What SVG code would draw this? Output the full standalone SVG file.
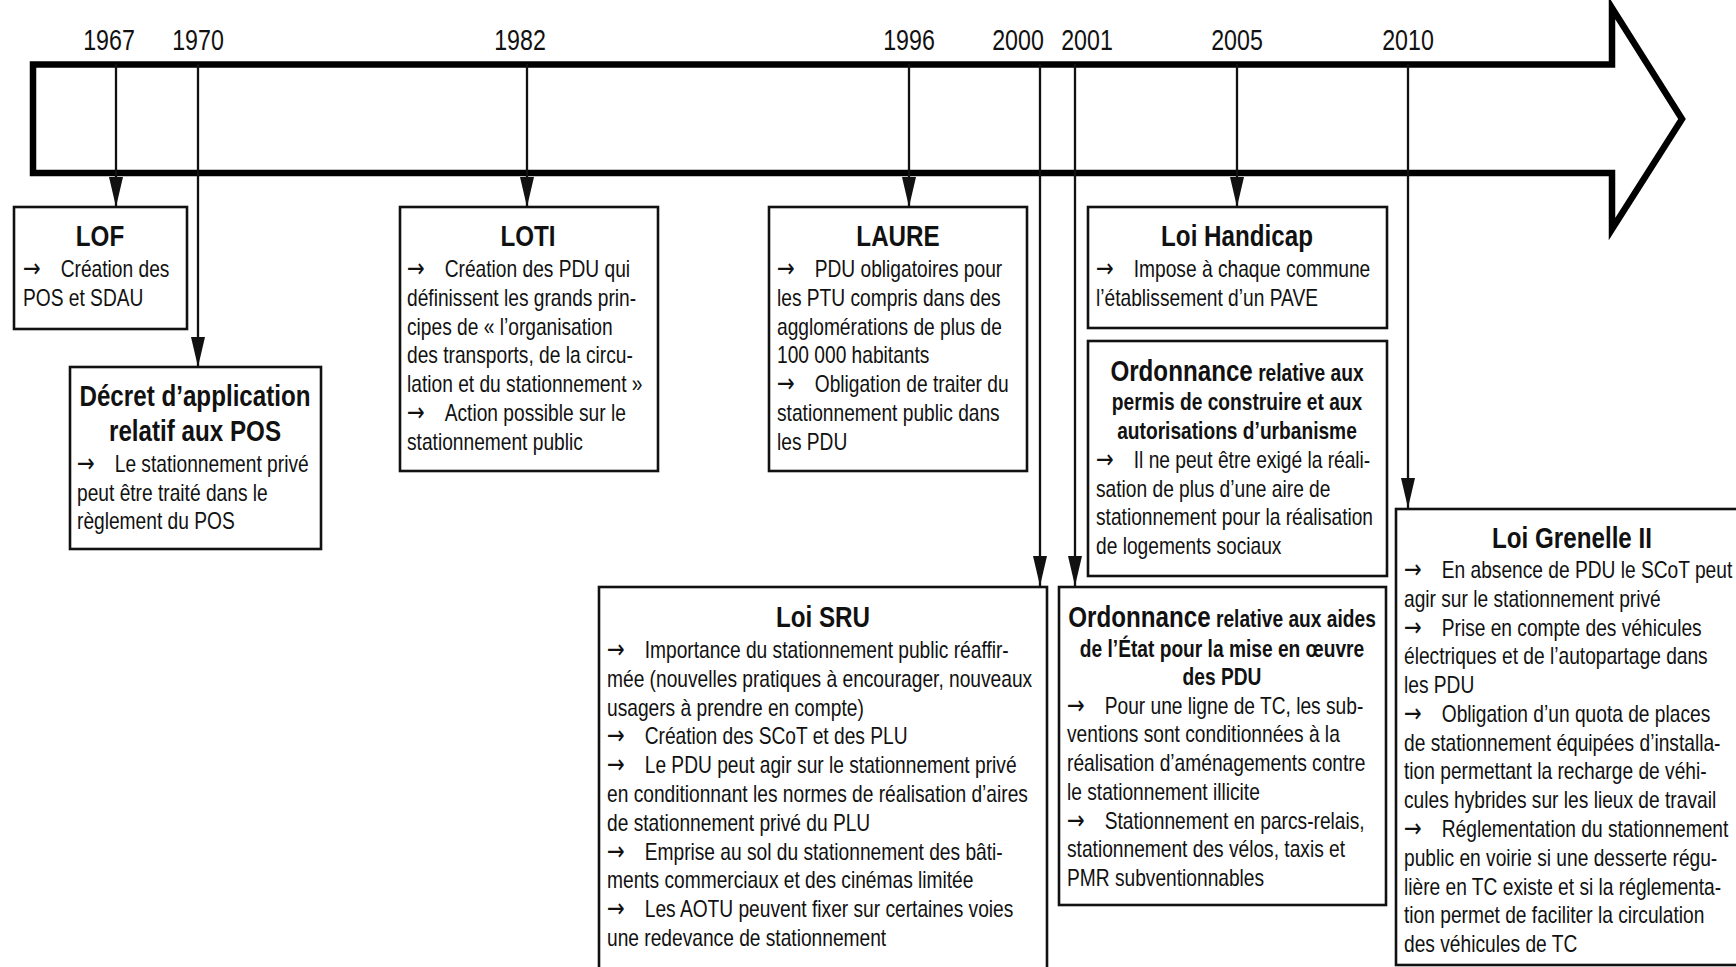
<svg xmlns="http://www.w3.org/2000/svg" width="1736" height="967" viewBox="0 0 1736 967">
<style>
.bg{fill:#fff}
.box{fill:#fff;stroke:#111;stroke-width:2.6}
.band{fill:none;stroke:#000;stroke-width:6.5;stroke-linejoin:miter;stroke-miterlimit:10}
.tick{fill:none;stroke:#111;stroke-width:2.3}
.b{font-family:"Liberation Sans",Arial,sans-serif;font-size:23.4px;fill:#111}
.t{font-weight:bold;font-size:29.5px;text-anchor:middle}
.s{font-weight:bold;font-size:23.4px}
.ar{font-family:"DejaVu Sans",sans-serif;font-size:26px}
.yr{font-family:"Liberation Sans",Arial,sans-serif;font-size:29px;fill:#111;text-anchor:middle}
</style>
<defs>
<marker id="ah" markerUnits="userSpaceOnUse" markerWidth="30" markerHeight="14" refX="30" refY="7" orient="auto">
<path d="M0,0 L30,7 L0,14 Z" fill="#111"/>
</marker>
</defs>
<rect class="bg" x="0" y="0" width="1736" height="967"/>

<g id="timeline">
<path class="band" d="M33,64.5 H1612 V8 L1682,119 L1612,229 V173 H33 Z"/>
<text class="yr" transform="translate(109 50) scale(0.8 1)">1967</text>
<text class="yr" transform="translate(198 50) scale(0.8 1)">1970</text>
<text class="yr" transform="translate(520 50) scale(0.8 1)">1982</text>
<text class="yr" transform="translate(909 50) scale(0.8 1)">1996</text>
<text class="yr" transform="translate(1018 50) scale(0.8 1)">2000</text>
<text class="yr" transform="translate(1087 50) scale(0.8 1)">2001</text>
<text class="yr" transform="translate(1237 50) scale(0.8 1)">2005</text>
<text class="yr" transform="translate(1408 50) scale(0.8 1)">2010</text>
</g>

<g id="connectors">
<path class="tick" d="M116,64 V207" marker-end="url(#ah)"/>
<path class="tick" d="M198,64 V367" marker-end="url(#ah)"/>
<path class="tick" d="M527,64 V207" marker-end="url(#ah)"/>
<path class="tick" d="M909,64 V207" marker-end="url(#ah)"/>
<path class="tick" d="M1040,64 V586" marker-end="url(#ah)"/>
<path class="tick" d="M1075,64 V586" marker-end="url(#ah)"/>
<path class="tick" d="M1237,64 V207" marker-end="url(#ah)"/>
<path class="tick" d="M1408,64 V508" marker-end="url(#ah)"/>
</g>

<g id="lof">
<rect class="box" x="14" y="207" width="173" height="122"/>
<text class="b t" transform="translate(100 0) scale(0.82 1)" x="0" y="246">LOF</text>
<text class="b" transform="translate(23 0) scale(0.82 1)"><tspan class="ar" x="0" y="277">→</tspan><tspan x="46" y="277">Création des</tspan><tspan x="0" y="306">POS et SDAU</tspan></text>
</g>

<g id="decret">
<rect class="box" x="70" y="367" width="251" height="182"/>
<text class="b t" transform="translate(195 0) scale(0.82 1)"><tspan x="0" y="406">Décret d’application</tspan><tspan x="0" y="441">relatif aux POS</tspan></text>
<text class="b" transform="translate(77 0) scale(0.82 1)"><tspan class="ar" x="0" y="472">→</tspan><tspan x="46" y="472">Le stationnement privé</tspan><tspan x="0" y="501">peut être traité dans le</tspan><tspan x="0" y="529">règlement du POS</tspan></text>
</g>

<g id="loti">
<rect class="box" x="400" y="207" width="258" height="264"/>
<text class="b t" transform="translate(528 0) scale(0.82 1)" x="0" y="246">LOTI</text>
<text class="b" transform="translate(407 0) scale(0.82 1)"><tspan class="ar" x="0" y="277">→</tspan><tspan x="46" y="277">Création des PDU qui</tspan><tspan x="0" y="306">définissent les grands prin-</tspan><tspan x="0" y="334.6">cipes de « l’organisation</tspan><tspan x="0" y="363.3">des transports, de la circu-</tspan><tspan x="0" y="392.1">lation et du stationnement »</tspan><tspan class="ar" x="0" y="420.9">→</tspan><tspan x="46" y="420.9">Action possible sur le</tspan><tspan x="0" y="449.7">stationnement public</tspan></text>
</g>

<g id="laure">
<rect class="box" x="769" y="207" width="258" height="264"/>
<text class="b t" transform="translate(898 0) scale(0.82 1)" x="0" y="246">LAURE</text>
<text class="b" transform="translate(777 0) scale(0.82 1)"><tspan class="ar" x="0" y="277">→</tspan><tspan x="46" y="277">PDU obligatoires pour</tspan><tspan x="0" y="306">les PTU compris dans des</tspan><tspan x="0" y="334.6">agglomérations de plus de</tspan><tspan x="0" y="363.3">100 000 habitants</tspan><tspan class="ar" x="0" y="392.1">→</tspan><tspan x="46" y="392.1">Obligation de traiter du</tspan><tspan x="0" y="420.9">stationnement public dans</tspan><tspan x="0" y="449.7">les PDU</tspan></text>
</g>

<g id="handicap">
<rect class="box" x="1088" y="207" width="299" height="121"/>
<text class="b t" transform="translate(1237 0) scale(0.82 1)" x="0" y="246">Loi Handicap</text>
<text class="b" transform="translate(1096 0) scale(0.82 1)"><tspan class="ar" x="0" y="277">→</tspan><tspan x="46" y="277">Impose à chaque commune</tspan><tspan x="0" y="306">l’établissement d’un PAVE</tspan></text>
</g>

<g id="ordonnance-permis">
<rect class="box" x="1088" y="341" width="299" height="235"/>
<text class="b t" transform="translate(1237 0) scale(0.82 1)"><tspan x="0" y="381">Ordonnance<tspan class="s"> relative aux</tspan></tspan><tspan class="s" x="0" y="410">permis de construire et aux</tspan><tspan class="s" x="0" y="439">autorisations d’urbanisme</tspan></text>
<text class="b" transform="translate(1096 0) scale(0.82 1)"><tspan class="ar" x="0" y="468">→</tspan><tspan x="46" y="468">Il ne peut être exigé la réali-</tspan><tspan x="0" y="497">sation de plus d’une aire de</tspan><tspan x="0" y="525">stationnement pour la réalisation</tspan><tspan x="0" y="554">de logements sociaux</tspan></text>
</g>

<g id="sru">
<rect class="box" x="599" y="587" width="448" height="430"/>
<text class="b t" transform="translate(823 0) scale(0.82 1)" x="0" y="627">Loi SRU</text>
<text class="b" transform="translate(607 0) scale(0.82 1)"><tspan class="ar" x="0" y="658">→</tspan><tspan x="46" y="658">Importance du stationnement public réaffir-</tspan><tspan x="0" y="686.8">mée (nouvelles pratiques à encourager, nouveaux</tspan><tspan x="0" y="715.6">usagers à prendre en compte)</tspan><tspan class="ar" x="0" y="744.4">→</tspan><tspan x="46" y="744.4">Création des SCoT et des PLU</tspan><tspan class="ar" x="0" y="773.2">→</tspan><tspan x="46" y="773.2">Le PDU peut agir sur le stationnement privé</tspan><tspan x="0" y="802">en conditionnant les normes de réalisation d’aires</tspan><tspan x="0" y="830.8">de stationnement privé du PLU</tspan><tspan class="ar" x="0" y="859.6">→</tspan><tspan x="46" y="859.6">Emprise au sol du stationnement des bâti-</tspan><tspan x="0" y="888.4">ments commerciaux et des cinémas limitée</tspan><tspan class="ar" x="0" y="917.2">→</tspan><tspan x="46" y="917.2">Les AOTU peuvent fixer sur certaines voies</tspan><tspan x="0" y="946">une redevance de stationnement</tspan></text>
</g>

<g id="ordonnance-aides">
<rect class="box" x="1059" y="587" width="327" height="318"/>
<text class="b t" transform="translate(1222 0) scale(0.82 1)"><tspan x="0" y="627">Ordonnance<tspan class="s"> relative aux aides</tspan></tspan><tspan class="s" x="0" y="657">de l’État pour la mise en œuvre</tspan><tspan class="s" x="0" y="685">des PDU</tspan></text>
<text class="b" transform="translate(1067 0) scale(0.82 1)"><tspan class="ar" x="0" y="713.6">→</tspan><tspan x="46" y="713.6">Pour une ligne de TC, les sub-</tspan><tspan x="0" y="742.4">ventions sont conditionnées à la</tspan><tspan x="0" y="771.2">réalisation d’aménagements contre</tspan><tspan x="0" y="800">le stationnement illicite</tspan><tspan class="ar" x="0" y="828.8">→</tspan><tspan x="46" y="828.8">Stationnement en parcs-relais,</tspan><tspan x="0" y="857.5">stationnement des vélos, taxis et</tspan><tspan x="0" y="886.3">PMR subventionnables</tspan></text>
</g>

<g id="grenelle">
<rect class="box" x="1396" y="509" width="400" height="456"/>
<text class="b t" transform="translate(1572 0) scale(0.82 1)" x="0" y="548.5">Loi Grenelle II</text>
<text class="b" transform="translate(1404 0) scale(0.82 1)"><tspan class="ar" x="0" y="578">→</tspan><tspan x="46" y="578">En absence de PDU le SCoT peut</tspan><tspan x="0" y="606.8">agir sur le stationnement privé</tspan><tspan class="ar" x="0" y="635.6">→</tspan><tspan x="46" y="635.6">Prise en compte des véhicules</tspan><tspan x="0" y="664.3">électriques et de l’autopartage dans</tspan><tspan x="0" y="693.1">les PDU</tspan><tspan class="ar" x="0" y="721.9">→</tspan><tspan x="46" y="721.9">Obligation d’un quota de places</tspan><tspan x="0" y="750.7">de stationnement équipées d’installa-</tspan><tspan x="0" y="779.5">tion permettant la recharge de véhi-</tspan><tspan x="0" y="808.3">cules hybrides sur les lieux de travail</tspan><tspan class="ar" x="0" y="837">→</tspan><tspan x="46" y="837">Réglementation du stationnement</tspan><tspan x="0" y="865.8">public en voirie si une desserte régu-</tspan><tspan x="0" y="894.6">lière en TC existe et si la réglementa-</tspan><tspan x="0" y="923.4">tion permet de faciliter la circulation</tspan><tspan x="0" y="952.2">des véhicules de TC</tspan></text>
</g>
</svg>
